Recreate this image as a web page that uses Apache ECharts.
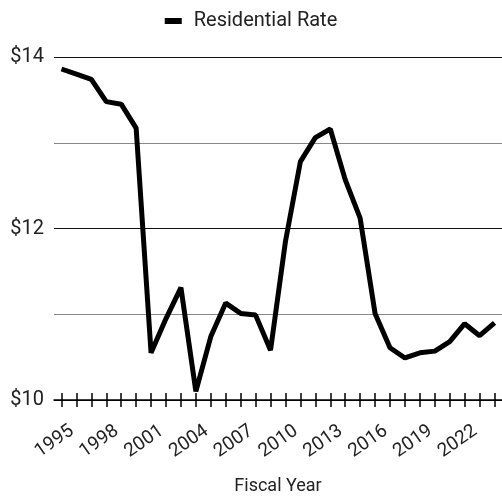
<!DOCTYPE html>
<html>
<head>
<meta charset="utf-8">
<script src="https://cdn.jsdelivr.net/npm/echarts@6/dist/echarts.min.js"></script>
<style>
  html, body { margin: 0; padding: 0; background: #fff; }
  #chart { width: 502px; height: 498px; }
</style>
</head>
<body>
<div id="chart"></div>
<script>
// fiscal years and residential rate ($)
const years = ['1995', '1996', '1997', '1998', '1999', '2000', '2001', '2002', '2003', '2004',
  '2005', '2006', '2007', '2008', '2009', '2010', '2011', '2012', '2013', '2014',
  '2015', '2016', '2017', '2018', '2019', '2020', '2021', '2022', '2023', '2024']
const residentialRate = [13.86, 13.80, 13.74, 13.48, 13.45, 13.17, 10.55, 10.95, 11.31, 10.1,
  10.74, 11.13, 11.01, 10.99, 10.58, 11.85, 12.78, 13.06, 13.16, 12.57,
  12.12, 11.01, 10.61, 10.49, 10.55, 10.57, 10.68, 10.89, 10.75, 10.90]

const font = 'Roboto, sans-serif'
const chart = echarts.init(document.getElementById('chart'))

chart.setOption({
  animation: false,
  textStyle: { fontFamily: font },
  legend: {
    top: 6,
    left: 'center',
    itemWidth: 17,
    itemHeight: 6,
    textStyle: { fontSize: 20, color: '#222', fontFamily: font, padding: [0, 0, 0, 7] },
    data: [{ name: 'Residential Rate', icon: 'rect' }]
  },
  grid: { left: 54, right: 0, top: 57, bottom: 98, outerBoundsMode: 'none' },
  xAxis: [{
    type: 'category',
    data: years,
    boundaryGap: true,
    name: 'Fiscal Year',
    nameLocation: 'middle',
    nameGap: 77,
    nameTextStyle: { fontSize: 18, color: '#222', fontFamily: font },
    axisLine: { show: true, lineStyle: { color: '#000', width: 1.5 } },
    axisTick: { show: true, alignWithLabel: true, interval: 0, length: 7, lineStyle: { color: '#000', width: 1.5 } },
    axisLabel: {
      interval: 2, rotate: 35, fontSize: 19, color: '#222', margin: 14, fontFamily: font,
      verticalAlign: 'top', padding: [9, 0, 0, 0]
    }
  }, {
    // second copy of the axis only to draw the upper half of each tick
    type: 'category',
    data: years,
    position: 'bottom',
    boundaryGap: true,
    axisLine: { show: false },
    axisTick: { show: true, alignWithLabel: true, interval: 0, inside: true, length: 7, lineStyle: { color: '#000', width: 1.5 } },
    axisLabel: { show: false }
  }],
  yAxis: {
    type: 'value',
    min: 10,
    max: 14,
    interval: 2,
    axisLine: { show: false },
    axisTick: { show: false },
    axisLabel: { formatter: '${value}', fontSize: 20, color: '#222', margin: 10, fontFamily: font },
    splitLine: { lineStyle: { color: '#111', width: 1 } },
    minorTick: { show: false, splitNumber: 2 },
    minorSplitLine: { show: true, lineStyle: { color: '#888', width: 1 } }
  },
  series: [{
    name: 'Residential Rate',
    type: 'line',
    data: residentialRate,
    showSymbol: false,
    symbol: 'none',
    color: '#000',
    lineStyle: { color: '#000', width: 5 }
  }]
})
</script>
</body>
</html>
